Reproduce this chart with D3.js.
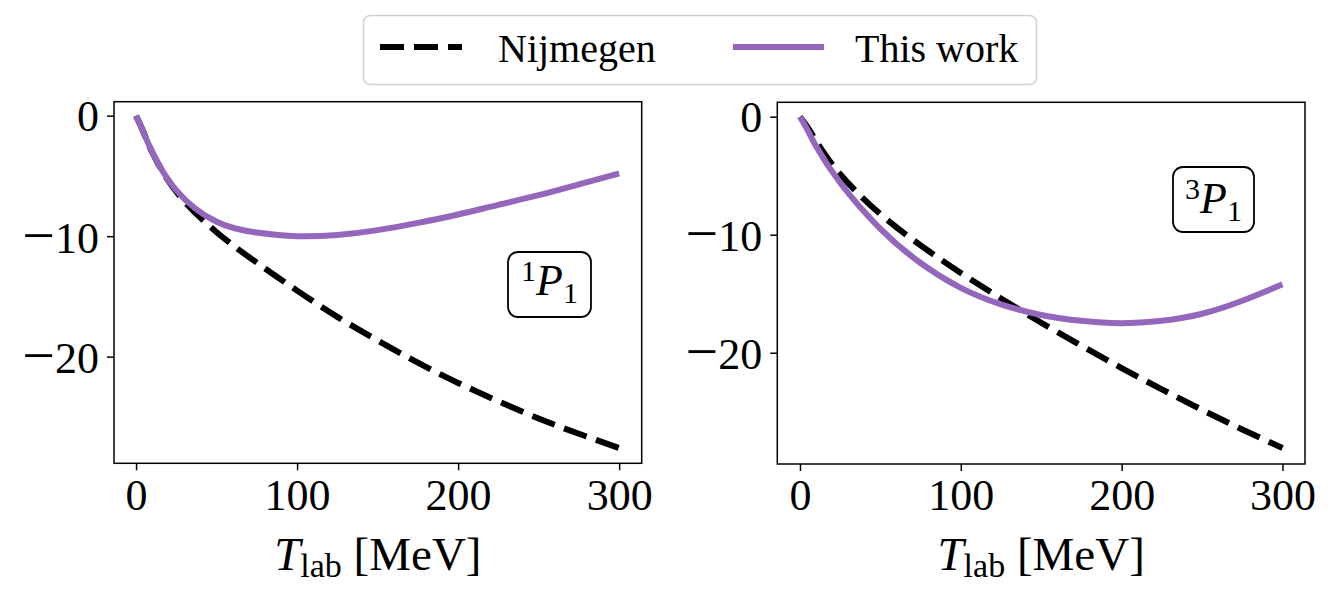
<!DOCTYPE html>
<html>
<head>
<meta charset="utf-8">
<script src="https://cdn.jsdelivr.net/npm/d3@7"></script>
<style>
  body { margin: 0; background: #fff; }
  svg { display: block; }
  text { font-family: "Liberation Serif", "DejaVu Serif", serif; fill: #000; }
</style>
</head>
<body>
<svg id="chart" width="1332" height="596"></svg>
<script>
// lab energies (MeV) shared by all curves
var tlab = [0, 5, 10, 25, 50, 75, 100, 125, 150, 175, 200, 225, 250, 275, 300];

// 1P1 phase shifts (deg)
var nijm1P1 = [0, -1.49, -3.04, -6.31, -9.67, -12.2, -14.52, -16.7, -18.65, -20.5, -22.18, -23.7, -25.13, -26.4, -27.58];
var work1P1 = [0, -1.5, -3.0, -6.2, -8.8, -9.7, -10.0, -9.9, -9.5, -8.9, -8.2, -7.4, -6.6, -5.7, -4.8];

// 3P1 phase shifts (deg)
var nijm3P1 = [0, -0.94, -2.06, -4.88, -8.25, -10.9, -13.24, -15.4, -17.46, -19.4, -21.3, -23.1, -24.84, -26.5, -28.07];
var work3P1 = [0, -1.2, -2.5, -5.6, -9.5, -12.4, -14.5, -15.9, -16.8, -17.3, -17.5, -17.3, -16.7, -15.6, -14.2];

var xTicks = [0, 100, 200, 300];
var yTicks = [0, -10, -20];

var panels = [
  { label: "1", nijm: nijm1P1, work: work1P1, x0: 114, x1: 641.7, y0: 101.7, y1: 463.3,
    xdom: [-13.7, 314], ydom: [-28.85, 1.16], box: [508, 252, 83, 65], base: 43 },
  { label: "3", nijm: nijm3P1, work: work3P1, x0: 777.3, x1: 1305, y0: 102.3, y1: 464,
    xdom: [-14.1, 314], ydom: [-29.43, 1.22], box: [1173, 167, 81, 65], base: 46 }
];

var purple = "#9467bd";
var svg = d3.select("#chart");

panels.forEach(function(p) {
  var x = d3.scaleLinear().domain(p.xdom).range([p.x0, p.x1]);
  var y = d3.scaleLinear().domain(p.ydom).range([p.y1, p.y0]);
  var g = svg.append("g");

  var line = function(vals) {
    return d3.line()
      .x(function(d, i) { return x(tlab[i]); })
      .y(function(d) { return y(d); })
      .curve(d3.curveNatural)(vals);
  };

  g.append("path").attr("d", line(p.nijm))
    .attr("fill", "none").attr("stroke", "#000").attr("stroke-width", 6)
    .attr("stroke-dasharray", "24,10");
  g.append("path").attr("d", line(p.work))
    .attr("fill", "none").attr("stroke", purple).attr("stroke-width", 6);

  // axes
  var xa = g.append("g").attr("transform", "translate(0," + p.y1 + ")")
    .call(d3.axisBottom(x).tickValues(xTicks).tickSize(7).tickPadding(8).tickFormat(d3.format("d")));
  var ya = g.append("g").attr("transform", "translate(" + p.x0 + ",0)")
    .call(d3.axisLeft(y).tickValues(yTicks).tickSize(7).tickPadding(8).tickFormat(""));
  [xa, ya].forEach(function(a) {
    a.select(".domain").remove();
    a.selectAll("line").attr("stroke-width", 1.5);
    a.selectAll("text").attr("font-size", 44).style("font-family", "Liberation Serif");
  });
  xa.selectAll("text").attr("dy", "0.71em");
  // y labels: wide math minus like the LaTeX one (dy lives on the tspans)
  ya.selectAll("text").attr("dy", null).each(function(d) {
    var t = d3.select(this);
    if (d < 0) {
      t.append("tspan").attr("font-size", 58).attr("dy", 18).text("\u2212");
      t.append("tspan").attr("dy", -2).text(-d);
    } else {
      t.append("tspan").attr("dy", 15).text(d);
    }
  });

  g.append("rect").attr("x", p.x0).attr("y", p.y0)
    .attr("width", p.x1 - p.x0).attr("height", p.y1 - p.y0)
    .attr("fill", "none").attr("stroke", "#000").attr("stroke-width", 1.5);

  // x label
  var xl = g.append("text").attr("x", (p.x0 + p.x1) / 2).attr("y", 570)
    .attr("text-anchor", "middle").attr("font-size", 47);
  xl.append("tspan").attr("font-style", "italic").text("T");
  xl.append("tspan").attr("font-size", 34).attr("dy", 7).text("lab");
  xl.append("tspan").attr("dy", -7).text(" [MeV]");

  // partial wave box
  var b = p.box;
  g.append("rect").attr("x", b[0]).attr("y", b[1]).attr("width", b[2]).attr("height", b[3])
    .attr("rx", 10).attr("fill", "#fff").attr("stroke", "#000").attr("stroke-width", 1.8);
  var pt = g.append("text").attr("x", b[0] + b[2] / 2).attr("y", b[1] + p.base)
    .attr("text-anchor", "middle").attr("font-size", 44);
  pt.append("tspan").attr("font-size", 30).attr("dy", -14).text(p.label);
  pt.append("tspan").attr("font-style", "italic").attr("dy", 14).text("P");
  pt.append("tspan").attr("font-size", 30).attr("dy", 8).text("1");
});

// legend
var lg = svg.append("g");
lg.append("rect").attr("x", 363.5).attr("y", 15.5).attr("width", 673).attr("height", 69)
  .attr("rx", 7).attr("fill", "#fff").attr("stroke", "#d0d0d0").attr("stroke-width", 1.5);
lg.append("line").attr("x1", 380).attr("x2", 462).attr("y1", 47).attr("y2", 47)
  .attr("stroke", "#000").attr("stroke-width", 6).attr("stroke-dasharray", "24,10");
lg.append("text").attr("x", 498).attr("y", 62).attr("font-size", 40).text("Nijmegen");
lg.append("line").attr("x1", 733).attr("x2", 824).attr("y1", 47).attr("y2", 47)
  .attr("stroke", purple).attr("stroke-width", 6);
lg.append("text").attr("x", 855).attr("y", 62).attr("font-size", 40).text("This work");
</script>
</body>
</html>
